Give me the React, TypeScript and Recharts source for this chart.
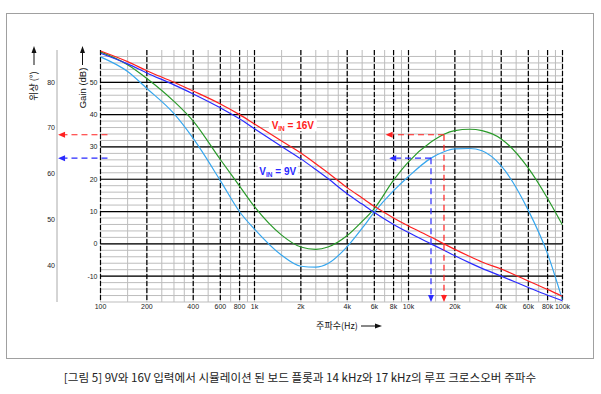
import React from "react";
import { ComposedChart, Line, XAxis, YAxis, CartesianGrid, ReferenceLine, ReferenceDot } from "recharts";

// frequency points (Hz) and the curves
const freqs = [100, 150, 200, 300, 400, 600, 800, 1000, 1500, 2000, 2500, 3000, 4000, 5000, 6000, 8000, 10000, 14000, 17000, 20000, 25000, 30000, 40000, 60000, 80000, 100000];
const gain16 = [59.7, 56.4, 53.6, 50.0, 47.3, 43.3, 40.0, 37.1, 31.8, 28.1, 24.8, 22.0, 17.4, 14.2, 11.6, 8.0, 5.5, 2.1, 0, -1.7, -3.9, -5.6, -7.8, -11.5, -14.1, -16.3];
const gain9 = [59.0, 55.7, 52.9, 49.2, 46.4, 42.1, 38.7, 35.6, 30.1, 26.3, 23.0, 20.2, 15.5, 12.3, 9.7, 6.0, 3.5, 0, -2.0, -3.7, -5.9, -7.6, -10.0, -13.5, -15.9, -17.6];
const phase16 = [86.6, 83.8, 80.8, 75.8, 71.5, 63.1, 57.3, 52.8, 46.6, 44.0, 43.5, 44.0, 46.5, 49.6, 52.4, 58.6, 62.6, 66.9, 68.6, 69.4, 69.7, 69.4, 67.6, 61.2, 54.6, 48.8];
const phase9 = [85.5, 82.3, 78.6, 73.1, 67.7, 58.5, 51.7, 47.9, 42.2, 39.8, 39.6, 40.4, 44.1, 48.1, 51.6, 56.3, 59.4, 63.4, 64.8, 65.4, 65.5, 65.0, 61.7, 52.0, 42.5, 32.4];

const freqTicks = [100, 200, 400, 600, 800, 1000, 2000, 4000, 6000, 8000, 10000, 20000, 40000, 60000, 80000, 100000];
const freqTickLabels = ["100", "200", "400", "600", "800", "1k", "2k", "4k", "6k", "8k", "10k", "20k", "40k", "60k", "80k", "100k"];
const gainTicks = [-10, 0, 10, 20, 30, 40, 50];
const phaseTicks = [40, 50, 60, 70, 80];

// grid
const minorMult = [1, 1.5, 2, 2.5, 3, 3.5, 4, 5, 6, 7, 8, 9];
const decades = [100, 1000, 10000];
const minorFreqs = decades.flatMap((d) => minorMult.map((m) => m * d)).concat([100000]);
const minorGains = Array.from({ length: 39 }, (_, i) => -18 + i * 2);

// crossover annotations
const crossFreqs = [17000, 14000];
const phaseMargins = [68.5, 63.4];
const arrowTipFreqs = [7100, 7500];
const leftArrowFrom = 111;
const leftArrowTo = 53;

const RED = "#ff2020";
const BLUE = "#2a2aff";
const GREEN = "#2a9a2a";
const LIGHTBLUE = "#36a6ee";
const annColors = [RED, BLUE];

const data = freqs.map((f, i) => ({ f, g16: gain16[i], g9: gain9[i], p16: phase16[i], p9: phase9[i] }));

const tickStyle = { fontSize: 7, fill: "#222", fontFamily: "Liberation Sans, Arial, sans-serif" };

const dashArrow = (color: string) => (p: any) => {
  const { x1, y1, x2, y2 } = p;
  const ang = Math.atan2(y2 - y1, x2 - x1);
  const L = 7;
  const W = 3;
  const bx = x2 - L * Math.cos(ang);
  const by = y2 - L * Math.sin(ang);
  const px = -Math.sin(ang) * W;
  const py = Math.cos(ang) * W;
  return (
    <g>
      <line x1={x1} y1={y1} x2={bx} y2={by} stroke={color} strokeWidth={1.2} strokeDasharray="6 4" />
      <polygon points={`${x2},${y2} ${bx + px},${by + py} ${bx - px},${by - py}`} fill={color} />
    </g>
  );
};

const vinLabel = (text: string, color: string, w: number) => (p: any) => {
  const { cx, cy } = p;
  return (
    <g>
      <rect x={cx - w / 2} y={cy - 7} width={w} height={13} fill="#fff" />
      <text x={cx} y={cy + 4} textAnchor="middle" fill={color} fontSize={10} fontWeight="bold" fontFamily="Liberation Sans, Arial, sans-serif">
        V<tspan fontSize={6.5} dy={2}>IN</tspan>
        <tspan dy={-2}>{` = ${text}`}</tspan>
      </text>
    </g>
  );
};

export default function App() {
  return (
    <div style={{ position: "absolute", left: 0, top: 0, width: 601, height: 394, background: "#fff" }}>
      <div style={{ position: "absolute", left: 6, top: 13, width: 586, height: 344, border: "1px solid #a0a0a0" }} />
      <div style={{ position: "absolute", left: 0, top: 0 }}>
        <ComposedChart width={601} height={322} data={data} margin={{ top: 50, right: 38.5, bottom: 0, left: 27 }}>
          <XAxis
            dataKey="f"
            type="number"
            scale="log"
            domain={[100, 100000]}
            ticks={freqTicks}
            interval={0}
            allowDataOverflow
            tickFormatter={(v: number) => freqTickLabels[freqTicks.indexOf(v)] ?? ""}
            axisLine={false}
            tickLine={false}
            tickSize={0}
            tickMargin={2}
            height={20}
            tick={tickStyle}
          />
          <YAxis
            yAxisId="gain"
            type="number"
            domain={[-18, 60]}
            ticks={gainTicks}
            interval={0}
            allowDataOverflow
            width={43.5}
            axisLine={false}
            tickLine={false}
            tickSize={0}
            tickMargin={3}
            tick={tickStyle}
          />
          <YAxis
            yAxisId="phase"
            type="number"
            domain={[32, 87]}
            ticks={phaseTicks}
            interval={0}
            allowDataOverflow
            width={30}
            axisLine={{ stroke: "#aaa" }}
            tickLine={false}
            tickSize={0}
            tickMargin={2}
            tick={tickStyle}
          />

          <CartesianGrid yAxisId="gain" horizontalValues={minorGains} verticalValues={minorFreqs} stroke="#bdbdbd" strokeWidth={1} />
          <CartesianGrid yAxisId="gain" horizontalValues={gainTicks} vertical={false} stroke="#000" strokeWidth={1.2} />
          <CartesianGrid yAxisId="gain" verticalValues={freqTicks} horizontal={false} stroke="#000" strokeWidth={1.2} strokeDasharray="5 2" />

          <Line yAxisId="phase" dataKey="p16" type="monotone" stroke={GREEN} strokeWidth={1.2} dot={false} isAnimationActive={false} />
          <Line yAxisId="phase" dataKey="p9" type="monotone" stroke={LIGHTBLUE} strokeWidth={1.2} dot={false} isAnimationActive={false} />
          <Line yAxisId="gain" dataKey="g9" type="monotone" stroke={BLUE} strokeWidth={1.2} dot={false} isAnimationActive={false} />
          <Line yAxisId="gain" dataKey="g16" type="monotone" stroke={RED} strokeWidth={1.2} dot={false} isAnimationActive={false} />

          {crossFreqs.map((f, i) => (
            <ReferenceLine
              key={`ah${f}`}
              yAxisId="phase"
              segment={[{ x: f, y: phaseMargins[i] }, { x: arrowTipFreqs[i], y: phaseMargins[i] }]}
              ifOverflow="visible"
              shape={dashArrow(annColors[i])}
            />
          ))}
          {crossFreqs.map((f, i) => (
            <ReferenceLine
              key={`av${f}`}
              yAxisId="phase"
              segment={[{ x: f, y: phaseMargins[i] }, { x: f, y: 32 }]}
              ifOverflow="visible"
              shape={dashArrow(annColors[i])}
            />
          ))}
          {phaseMargins.map((pm, i) => (
            <ReferenceLine
              key={`al${pm}`}
              yAxisId="phase"
              segment={[{ x: leftArrowFrom, y: pm }, { x: leftArrowTo, y: pm }]}
              ifOverflow="visible"
              shape={dashArrow(annColors[i])}
            />
          ))}
          <ReferenceDot yAxisId="gain" x={1774} y={36.7} r={1} ifOverflow="visible" shape={vinLabel("16V", RED, 48)} />
          <ReferenceDot yAxisId="gain" x={1416} y={22.5} r={1} ifOverflow="visible" shape={vinLabel("9V", BLUE, 40)} />
        </ComposedChart>
      </div>
      <svg width={601} height={394} style={{ position: "absolute", left: 0, top: 0, pointerEvents: "none" }}>
        <g fontFamily="Liberation Sans, Arial, sans-serif" fill="#111">
          <line x1={82.5} y1={65} x2={82.5} y2={52} stroke="#111" strokeWidth={1} />
          <polygon points="82.5,46 80,53 85,53" fill="#111" />
          <text x={86} y={88} transform="rotate(-90 86 88)" textAnchor="middle" fontSize={9.5}>Gain (dB)</text>
          <line x1={34} y1={65} x2={34} y2={52} stroke="#111" strokeWidth={1} />
          <polygon points="34,46 31.5,53 36.5,53" fill="#111" />
          <text x={37} y={86} transform="rotate(-90 37 86)" textAnchor="middle" fontSize={9.5} fontFamily="Noto Sans CJK KR">위상 (°)</text>
          <text x={337} y={329} textAnchor="middle" fontSize={9} fontFamily="Noto Sans CJK KR">주파수(Hz)</text>
          <line x1={361} y1={326} x2={376} y2={326} stroke="#111" strokeWidth={1} />
          <polygon points="382,326 375,323.5 375,328.5" fill="#111" />
        </g>
        <text x={300} y={382} textAnchor="middle" fontSize={11.6} fill="#222" fontFamily="Noto Sans CJK KR">
          [그림 5] 9V와 16V 입력에서 시뮬레이션 된 보드 플롯과 14 kHz와 17 kHz의 루프 크로스오버 주파수
        </text>
      </svg>
    </div>
  );
}
